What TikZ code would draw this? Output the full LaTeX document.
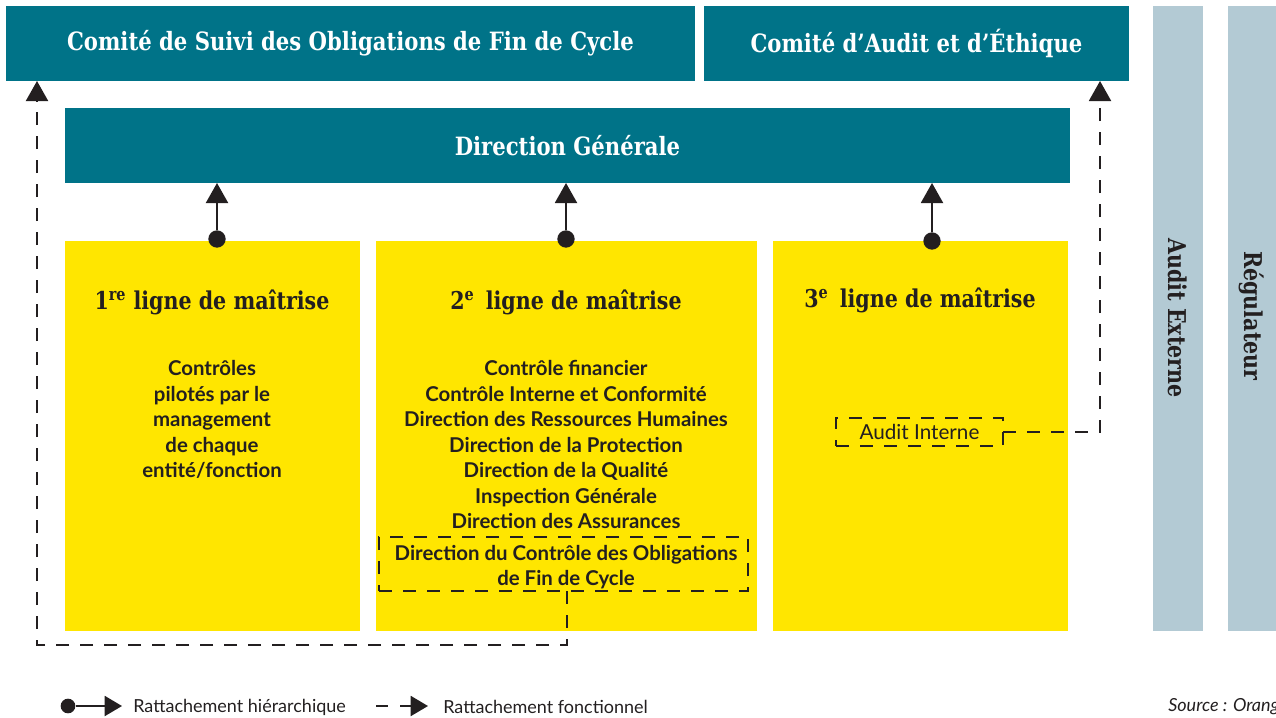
\documentclass[tikz,border=0pt]{standalone}
\usepackage{fontspec}
\setmainfont{Lato}
\newfontfamily\slabfont[FakeStretch=0.84]{DejaVu Serif}
\usetikzlibrary{arrows.meta,fit}

\definecolor{comitebleu}{HTML}{007388}
\definecolor{lignejaune}{HTML}{FFE600}
\definecolor{externegris}{HTML}{B3CAD4}
\definecolor{textenoir}{HTML}{231F20}

\tikzset{
    bloc/.style={inner sep=0pt, outer sep=0pt},
    comite/.style={bloc, fill=comitebleu},
    entete/.style={text=white, font=\slabfont\bfseries\fontsize{18.9}{22}\selectfont},
    titre/.style={text=textenoir, font=\slabfont\bfseries\fontsize{18.4}{22}\selectfont},
    corps/.style={text=textenoir, align=center, font=\bfseries\fontsize{15.3}{19.1}\selectfont},
    encadre/.style={bloc, draw=textenoir, line width=1.5pt, dash pattern=on 10pt off 8pt},
    hdot/.style={circle, fill=textenoir, inner sep=0pt, minimum size=13pt},
    hier/.style={draw=textenoir, line width=1.5pt, -{Triangle[width=16.5pt,length=15pt]}},
    fonct/.style={draw=textenoir, line width=1.5pt, dash pattern=on 10pt off 8pt, -{Triangle[width=16.5pt,length=15pt]}},
    legende/.style={text=textenoir, anchor=west, inner sep=0pt, font=\fontsize{13.5}{15}\selectfont}
}

\begin{document}
\begin{tikzpicture}[x=0.75pt, y=-0.75pt]
    \useasboundingbox (0,0) rectangle (1276,717);

    % comites et direction
    \node[comite, fit={(6,6) (695,81)}] (cs) {};
    \node[entete] (cst) at (cs.center) {Comité de Suivi des Obligations de Fin de Cycle};
    \node[comite, fit={(704,6) (1129,81)}] (cae) {};
    \node[entete] (caet) at (cae.center) {Comité d’Audit et d’Éthique};
    \node[comite, fit={(65,108) (1070,183)}] (dg) {};
    \node[entete] (dgt) at (dg.center) {Direction Générale};

    % acteurs externes
    \node[bloc, fill=externegris, fit={(1153,6) (1203,631)}] (ae) {};
    \node[titre, rotate=-90] (aet) at (1178,318) {Audit Externe};
    \node[bloc, fill=externegris, fit={(1228,6) (1276,631)}] (reg) {};
    \node[titre, rotate=-90] (regt) at (1252,316) {Régulateur};

    % lignes de maitrise
    \begin{scope}[every node/.append style={bloc, fill=lignejaune}]
        \node[fit={(65,241) (360,631)}] (l1) {};
        \node[fit={(376,241) (757,631)}] (l2) {};
        \node[fit={(773,241) (1068,631)}] (l3) {};
    \end{scope}

    \node[titre] (t1) at (212,302) {1\textsuperscript{re} ligne de maîtrise};
    \node[titre] (t2) at (566,302) {2\textsuperscript{e}\, ligne de maîtrise};
    \node[titre] (t3) at (920,300) {3\textsuperscript{e}\, ligne de maîtrise};

    \node[corps, anchor=north] (c1) at (212,356) {Contrôles\\pilotés par le\\management\\de chaque\\entité/fonction};
    \node[corps, anchor=north] (c2) at (566,356) {Contrôle financier\\Contrôle Interne et Conformité\\Direction des Ressources Humaines\\Direction de la Protection\\Direction de la Qualité\\Inspection Générale\\Direction des Assurances};
    \node[encadre, fit={(379,537) (748,591)}] (dcof) {};
    \node[corps] (dcoft) at (566,567) {Direction du Contrôle des Obligations\\de Fin de Cycle};
    \node[encadre, fit={(836,418) (1003,446)}] (ai) {};
    \node[text=textenoir, font=\fontsize{15.5}{17}\selectfont] (ait) at (ai.center) {Audit Interne};

    % rattachements
    \node[hdot] (h1) at (217,239) {};
    \node[hdot] (h2) at (566,239) {};
    \node[hdot] (h3) at (932,241) {};
    \draw[hier] (h1) -- (h1 |- dg.south);
    \draw[hier] (h2) -- (h2 |- dg.south);
    \draw[hier] (h3) -- (h3 |- dg.south);

    \coordinate (f1) at (567,645);
    \coordinate (f2) at (37,645);
    \draw[fonct] (dcof.south -| f1) -- (f1) -- (f2) -- (f2 |- cs.south);
    \coordinate (f3) at (1100,432);
    \draw[fonct] (ai.east) -- (f3) -- (f3 |- cae.south);

    % legende
    \node[hdot, minimum size=11pt] (lh) at (68,706) {};
    \coordinate (lhe) at (122,706);
    \draw[hier, -{Triangle[width=15pt,length=13pt]}] (lh) -- (lhe);
    \node[legende] (lht) at (133,707) {Rattachement hiérarchique};
    \coordinate (lf) at (376,706);
    \coordinate (lfe) at (428,706);
    \draw[fonct, dash pattern=on 9pt off 9pt, -{Triangle[width=15pt,length=13pt]}] (lf) -- (lfe);
    \node[legende] (lft) at (443,707) {Rattachement fonctionnel};
    \node[legende, font=\itshape\fontsize{13.5}{15}\selectfont] (src) at (1168,707) {Source : Orange};
\end{tikzpicture}
\end{document}
